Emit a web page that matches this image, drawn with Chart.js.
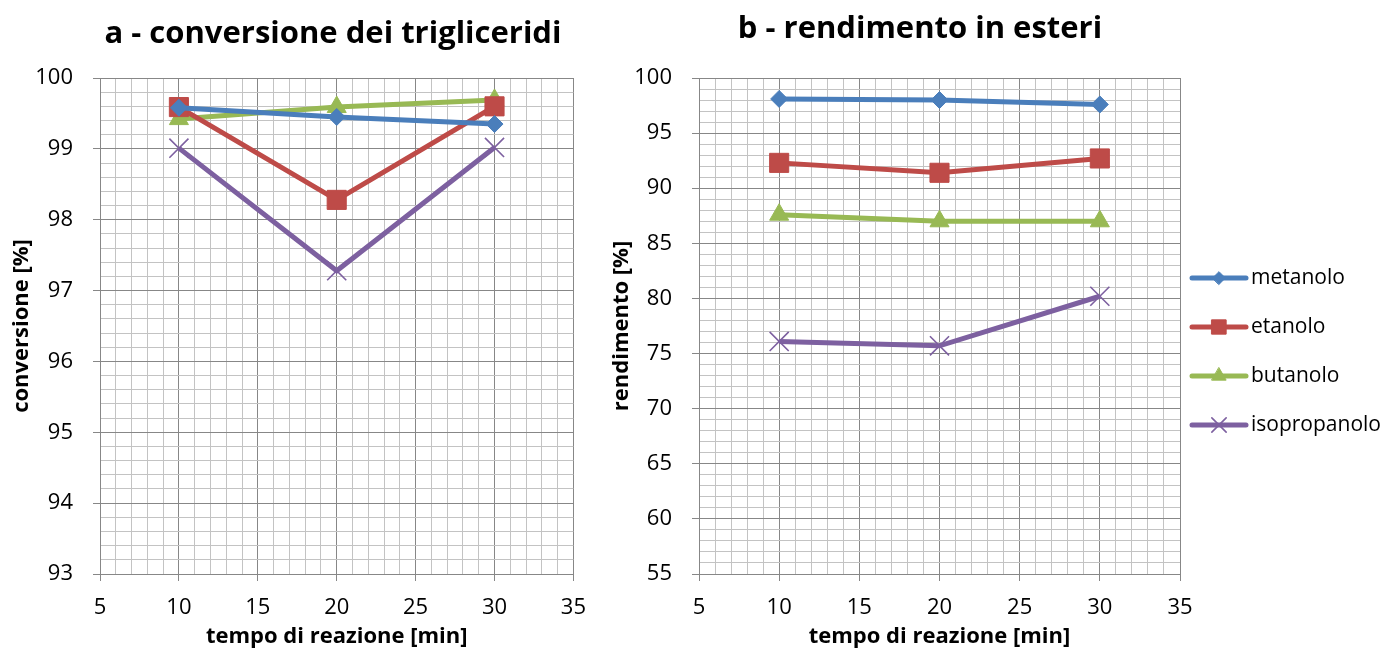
<!DOCTYPE html>
<html>
<head>
<meta charset="utf-8">
<script src="https://cdn.jsdelivr.net/npm/chart.js@4.4.1/dist/chart.umd.min.js"></script>
<style>
  body { margin: 0; background: #fff; }
  #wrap { position: relative; width: 1381px; height: 650px; }
  #chartA { position: absolute; left: 0; top: 0; }
  #chartB { position: absolute; left: 600px; top: 0; }
</style>
</head>
<body>
<div id="wrap">
  <canvas id="chartA" width="600" height="650"></canvas>
  <canvas id="chartB" width="781" height="650"></canvas>
</div>
<script>
// data
const times = [10, 20, 30];
const seriesNames = ['metanolo', 'etanolo', 'butanolo', 'isopropanolo'];

const convMetanolo = [99.58, 99.45, 99.35];
const convEtanolo = [99.59, 98.28, 99.60];
const convButanolo = [99.42, 99.59, 99.69];
const convIsopropanolo = [99.01, 97.28, 99.02];

const rendMetanolo = [98.1, 98.0, 97.6];
const rendEtanolo = [92.3, 91.4, 92.7];
const rendButanolo = [87.6, 87.0, 87.0];
const rendIsopropanolo = [76.1, 75.7, 80.2];

const xTicks = [5, 10, 15, 20, 25, 30, 35];
const convTicks = [93, 94, 95, 96, 97, 98, 99, 100];
const rendTicks = [55, 60, 65, 70, 75, 80, 85, 90, 95, 100];

const colors = ['#4a7ebb', '#be4b48', '#98b954', '#7d60a0'];
const markers = [
  { style: 'rectRot', radius: 8.5, border: 1 },
  { style: 'rect', radius: 13.5, border: 1 },
  { style: 'triangle', radius: 11, border: 1 },
  { style: 'crossRot', radius: 13.5, border: 1.6 }
];

const major = '#878787';
const minor = '#c3c3c3';
const font = 'Open Sans, sans-serif';

function makeDatasets(lists) {
  return lists.map((vals, i) => ({
    label: seriesNames[i],
    data: vals.map((v, j) => ({ x: times[j], y: v })),
    borderColor: colors[i],
    backgroundColor: colors[i],
    pointBackgroundColor: colors[i],
    pointBorderColor: colors[i],
    pointStyle: markers[i].style,
    pointRadius: markers[i].radius,
    pointHoverRadius: markers[i].radius,
    pointBorderWidth: markers[i].border,
    borderWidth: 5,
    tension: 0
  }));
}

function isMajor(v, list) {
  return list.some(t => Math.abs(t - v) < 1e-6);
}

function xScale() {
  return {
    type: 'linear', min: 5, max: 35,
    ticks: {
      stepSize: 1, autoSkip: false, maxRotation: 0, color: '#000', padding: 14,
      font: { family: font, size: 22 },
      callback: v => isMajor(v, xTicks) ? v : ''
    },
    grid: {
      color: c => c.tick && isMajor(c.tick.value, xTicks) ? major : minor,
      tickColor: c => c.tick && isMajor(c.tick.value, xTicks) ? major : 'rgba(0,0,0,0)',
      tickLength: 7
    },
    border: { color: major },
    title: {
      display: true, text: 'tempo di reazione [min]', color: '#000',
      font: { family: font, size: 22, weight: 'bold' }, padding: { top: 0, bottom: 0 }
    },
    afterFit: s => { s.height = 76; }
  };
}

function yScale(min, max, step, list, label, width) {
  return {
    type: 'linear', min: min, max: max,
    ticks: {
      stepSize: step, autoSkip: false, color: '#000', padding: 20,
      font: { family: font, size: 22 },
      callback: v => isMajor(v, list) ? Math.round(v) : ''
    },
    grid: {
      color: c => c.tick && isMajor(c.tick.value, list) ? major : minor,
      tickColor: c => c.tick && isMajor(c.tick.value, list) ? major : 'rgba(0,0,0,0)',
      tickLength: 7
    },
    border: { color: major },
    title: {
      display: true, text: label, color: '#000',
      font: { family: font, size: 22, weight: 'bold' }, padding: { top: 9, bottom: 0 }
    },
    afterFit: s => { s.width = width; }
  };
}

// title drawn centred at a given x
const titlePlugin = {
  id: 'chartTitle',
  afterDraw(chart, args, opts) {
    const ctx = chart.ctx;
    ctx.save();
    ctx.font = 'bold 31px ' + font;
    ctx.fillStyle = '#000';
    ctx.textAlign = 'center';
    ctx.textBaseline = 'middle';
    ctx.fillText(opts.text, opts.x, opts.y);
    ctx.restore();
  }
};

// legend with line + marker, drawn in the right padding
const legendPlugin = {
  id: 'sideLegend',
  afterDraw(chart, args, opts) {
    if (!opts.show) return;
    const ctx = chart.ctx;
    ctx.save();
    chart.data.datasets.forEach((ds, i) => {
      const y = opts.top + i * opts.gap;
      ctx.strokeStyle = ds.borderColor;
      ctx.lineWidth = 5;
      ctx.lineCap = 'round';
      ctx.beginPath();
      ctx.moveTo(opts.x, y);
      ctx.lineTo(opts.x + 54, y);
      ctx.stroke();
      ctx.fillStyle = ds.borderColor;
      ctx.strokeStyle = ds.borderColor;
      ctx.lineWidth = ds.pointBorderWidth;
      Chart.helpers.drawPoint(ctx, {
        pointStyle: ds.pointStyle, radius: ds.pointRadius * 0.75,
        rotation: 0, borderWidth: ds.pointBorderWidth
      }, opts.x + 27, y);
      ctx.fillStyle = '#000';
      ctx.font = '21px ' + font;
      ctx.textAlign = 'left';
      ctx.textBaseline = 'middle';
      ctx.fillText(ds.label, opts.x + 59, y);
    });
    ctx.restore();
  }
};

function makeChart(id, lists, yOpts, padRight, title, legend) {
  return new Chart(document.getElementById(id), {
    type: 'line',
    data: { datasets: makeDatasets(lists) },
    options: {
      responsive: false,
      animation: false,
      layout: { padding: { top: 78, right: padRight, left: 0, bottom: 0 } },
      scales: { x: xScale(), y: yOpts },
      plugins: {
        legend: { display: false },
        tooltip: { enabled: false },
        chartTitle: title,
        sideLegend: legend
      }
    },
    plugins: [titlePlugin, legendPlugin]
  });
}

makeChart('chartA',
  [convMetanolo, convEtanolo, convButanolo, convIsopropanolo],
  yScale(93, 100, 0.2, convTicks, 'conversione [%]', 100),
  23,
  { text: 'a - conversione dei trigliceridi', x: 333, y: 34 },
  { show: false });

makeChart('chartB',
  [rendMetanolo, rendEtanolo, rendButanolo, rendIsopropanolo],
  yScale(55, 100, 1, rendTicks, 'rendimento [%]', 99),
  201,
  { text: 'b - rendimento in esteri', x: 320, y: 29 },
  { show: true, x: 592, top: 278, gap: 49 });
</script>
</body>
</html>
